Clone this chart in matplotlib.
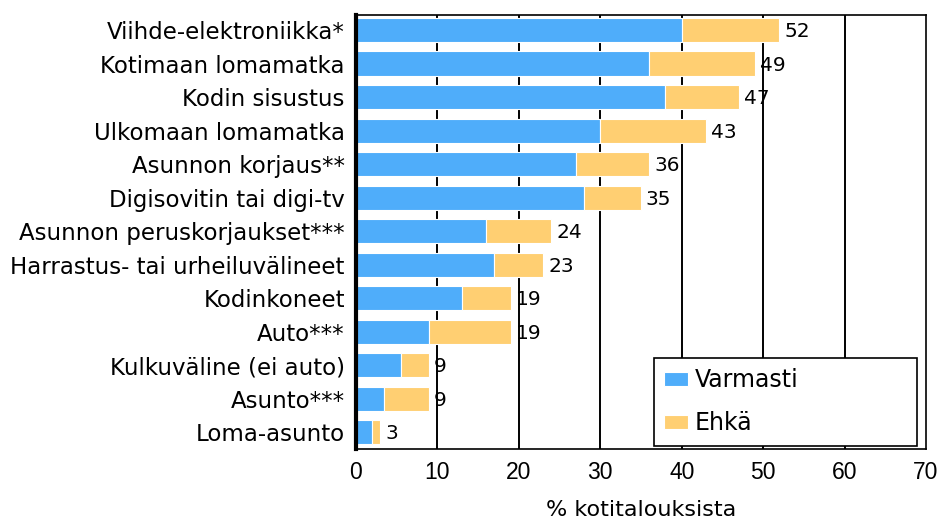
import matplotlib
matplotlib.use("Agg")
import matplotlib.pyplot as plt
import numpy as np

plt.rcParams['font.family'] = ['Liberation Sans', 'DejaVu Sans']

categories = [
    "Viihde-elektroniikka*",
    "Kotimaan lomamatka",
    "Kodin sisustus",
    "Ulkomaan lomamatka",
    "Asunnon korjaus**",
    "Digisovitin tai digi-tv",
    "Asunnon peruskorjaukset***",
    "Harrastus- tai urheiluvälineet",
    "Kodinkoneet",
    "Auto***",
    "Kulkuväline (ei auto)",
    "Asunto***",
    "Loma-asunto",
]
varmasti = [40, 36, 38, 30, 27, 28, 16, 17, 13, 9, 5.5, 3.5, 2]
ehka = [12, 13, 9, 13, 9, 7, 8, 6, 6, 10, 3.5, 5.5, 1]
xticks = [0, 10, 20, 30, 40, 50, 60, 70]

blue = "#4FADFA"
yellow = "#FFCF72"
wide_font = ['DejaVu Sans']

fig = plt.figure(figsize=(9.39, 5.25), dpi=100)
ax = fig.add_axes([0.3791, 0.1448, 0.6071, 0.8267])

y = np.arange(len(categories))
v = np.array(varmasti, dtype=float)
e = np.array(ehka, dtype=float)
total = v + e

ax.barh(y, v, height=0.72, color=blue, edgecolor="white", linewidth=0.8,
        label="Varmasti", zorder=3)
ax.barh(y, e, left=v, height=0.72, color=yellow, edgecolor="white",
        linewidth=0.8, label="Ehkä", zorder=3)

# total share at the end of each stacked bar
for yi, t in zip(y, total):
    ax.text(t + 0.6, yi + 0.05, f"{t:.0f}", va="center", ha="left",
            fontsize=14.5, family=wide_font, zorder=4)

ax.set_xlim(0, 70)
ax.set_ylim(len(categories) - 0.5, -0.45)
ax.set_xticks(xticks)
ax.set_xticklabels([str(t) for t in xticks], fontsize=16.5)
ax.set_yticks(y)
ax.set_yticklabels(categories, fontsize=16.5, family=wide_font)
ax.tick_params(axis="both", length=0)
ax.tick_params(axis="x", pad=9)
ax.tick_params(axis="y", pad=8)

for xv in xticks[1:-1]:
    ax.axvline(xv, color="black", linewidth=1.4, zorder=1)

for side in ["top", "right", "bottom"]:
    ax.spines[side].set_linewidth(1.2)
    ax.spines[side].set_color("black")
ax.spines["left"].set_linewidth(3)
ax.spines["left"].set_zorder(5)

ax.set_xlabel("% kotitalouksista", fontsize=16, labelpad=11,
              family=wide_font)

leg = ax.legend(loc="center left", bbox_to_anchor=(0.522, 0.009, 0.462, 0.2),
                mode="expand", prop={'family': wide_font, 'size': 17},
                frameon=True, fancybox=False,
                edgecolor="black", framealpha=1, handlelength=1.0,
                handleheight=0.55, handletextpad=0.3, labelspacing=0.8,
                borderpad=0.45, borderaxespad=0)
leg.get_frame().set_linewidth(1.2)
leg.set_zorder(6)

fig.savefig("out.png", dpi=100)
